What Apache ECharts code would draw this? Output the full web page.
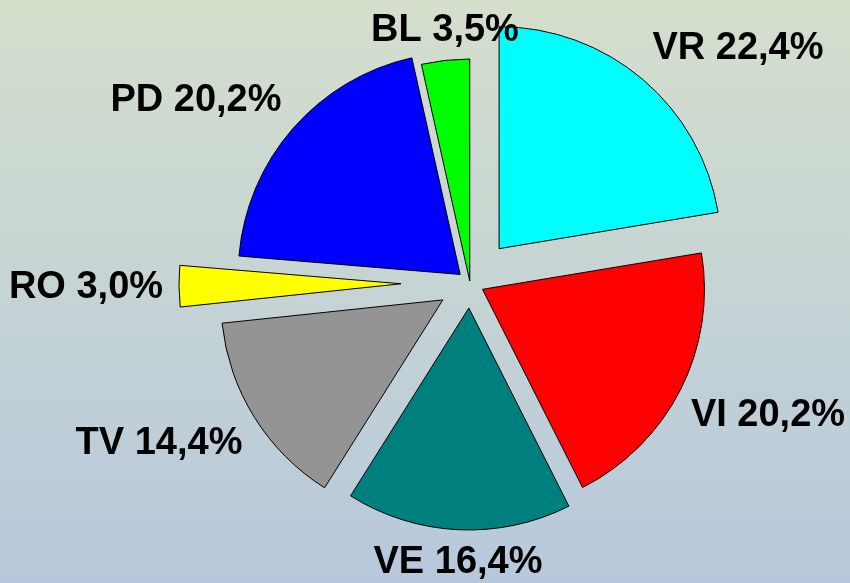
<!DOCTYPE html>
<html>
<head>
<meta charset="utf-8">
<script src="https://cdn.jsdelivr.net/npm/echarts@6/dist/echarts.min.js"></script>
<style>
  html, body { margin: 0; padding: 0; }
  #pieChart { width: 850px; height: 583px; }
</style>
</head>
<body>
<div id="pieChart"></div>
<script>
// slice names and shares (percent), clockwise from 12 o'clock
const categories = ['VR', 'VI', 'VE', 'TV', 'RO', 'PD', 'BL']
const shares = [22.4, 20.2, 16.4, 14.4, 3.0, 20.2, 3.5]

// look
const colors = ['#00ffff', '#ff0000', '#007f7f', '#949494', '#ffff00', '#0000ff', '#00ff00']
const explode = [45, 14, 25, 32, 69, 13, 2]
const labelAt = [[738, 49], [768, 416], [458, 563], [159, 444], [86, 288], [196, 101], [445, 31]]

const pieBase = {
  type: 'pie',
  center: [470, 283],
  radius: 222,
  startAngle: 90,
  clockwise: true,
  animation: false,
  avoidLabelOverlap: false,
  emphasis: { disabled: true },
  labelLine: { show: false }
}

const chart = echarts.init(document.getElementById('pieChart'))

// one pie per slice so every slice can get its own explode distance
const slices = categories.map((name, k) => Object.assign({}, pieBase, {
  silent: true,
  selectedMode: 'multiple',
  selectedOffset: explode[k],
  label: { show: false },
  data: categories.map((n, i) => ({
    name: n,
    value: shares[i],
    selected: i === k,
    itemStyle: i === k
      ? { color: colors[i], borderColor: '#000', borderWidth: 1 }
      : { color: 'rgba(0,0,0,0)', borderWidth: 0 }
  }))
}))

// label-only pie on top (labels of selected slices ignore labelLayout)
const labels = Object.assign({}, pieBase, {
  itemStyle: { color: 'rgba(0,0,0,0)', borderWidth: 0 },
  label: {
    show: true,
    position: 'outside',
    color: '#000',
    fontFamily: 'Liberation Sans',
    fontWeight: 'bold',
    fontSize: 38,
    formatter: p => p.name + ' ' + shares[p.dataIndex].toFixed(1).replace('.', ',') + '%'
  },
  labelLayout: p => ({
    x: labelAt[p.dataIndex][0],
    y: labelAt[p.dataIndex][1],
    align: 'center',
    verticalAlign: 'middle'
  }),
  data: categories.map((n, i) => ({ name: n, value: shares[i] }))
})

chart.setOption({
  backgroundColor: {
    type: 'linear', x: 0, y: 0, x2: 0, y2: 1,
    colorStops: [
      { offset: 0, color: '#d4dfcc' },
      { offset: 1, color: '#b7c8dc' }
    ]
  },
  series: slices.concat([labels])
})
</script>
</body>
</html>
